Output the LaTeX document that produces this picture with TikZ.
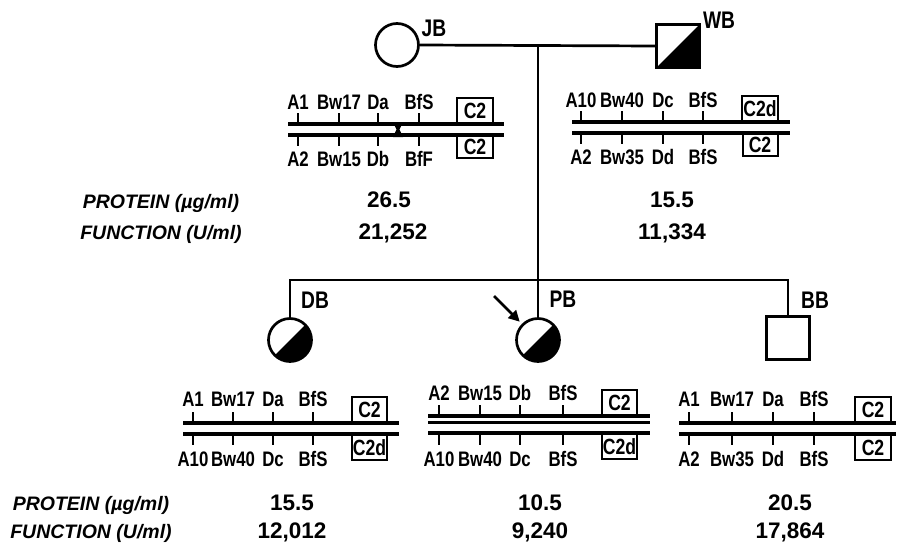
\documentclass[tikz,border=0pt]{standalone}
\usepackage{fontspec}
\setmainfont{Liberation Sans}
\newfontfamily\lab[FakeStretch=0.8]{Liberation Sans Bold}
\newfontfamily\labn{Liberation Sans Bold}
\newfontfamily\labi{Liberation Sans Bold Italic}
\usetikzlibrary{arrows.meta,calc}
\begin{document}
\begin{tikzpicture}[x=1pt,y=-1pt,
  ped/.style={line width=2.7pt},
  chrom/.style={line width=3.3pt},
  gtick/.style={line width=2.2pt},
  gene/.style={font=\lab\fontsize{21}{21}\selectfont, inner sep=0pt, anchor=center},
  boxlab/.style={draw, line width=2pt, font=\lab\fontsize{22}{22}\selectfont, minimum width=36pt, minimum height=25pt, inner sep=1pt},
  plabel/.style={font=\lab\fontsize{24}{24}\selectfont, inner sep=0pt},
  numlab/.style={font=\labn\fontsize{22.5}{22.5}\selectfont, inner sep=0pt},
  ital/.style={font=\labi\fontsize{19.5}{19.5}\selectfont, inner sep=0pt},
  halffill/.style={path picture={\fill[black] (path picture bounding box.north east) -- (path picture bounding box.south east) -- (path picture bounding box.south west) -- cycle;}},
  fem/.style={circle, draw, ped, minimum size=43pt, inner sep=0pt},
  mal/.style={rectangle, draw, ped, minimum size=43pt, inner sep=0pt}
]
\useasboundingbox (0,0) rectangle (899,549);

% ---------- pedigree ----------
\node[fem] (jb) at (397,45) {};
\node[mal, halffill] (wb) at (678,46) {};
\node[plabel] (jbl) at (434,28) {JB};
\node[plabel] (wbl) at (719,20) {WB};
\coordinate (m) at (538,45);
\draw[ped] (jb.east) -- (wb.west);

\node[fem, halffill] (db) at (290,340) {};
\node[fem, halffill] (pb) at (538,340) {};
\node[mal] (bb) at (788,338) {};
\node[plabel] (dbl) at (315,300) {DB};
\node[plabel] (pbl) at (563,299) {PB};
\node[plabel] (bbl) at (815,300) {BB};

\coordinate (sl) at (290,280);
\coordinate (sr) at (788,280);
\draw[ped] (m) -- (pb.north);
\draw[ped] (db.north) -- (sl) -- (sr) -- (bb.north);

\coordinate (arr) at (494,296);
\draw[line width=2.8pt, -{Triangle[length=11pt,width=11pt]}, shorten >=3pt] (arr) -- (pb.135);

% ---------- JB chromosomes ----------
\draw[chrom] (288,124) -- (504,124) (288,135) -- (504,135);
\fill (393,122) -- (403,122) -- (399.5,129.5) -- (403,137) -- (393,137) -- (396.5,129.5) -- cycle;
\foreach \x/\t/\b [count=\i] in {298/A1/A2, 339/Bw17/Bw15, 378/Da/Db, 419/BfS/BfF} {
  \draw[gtick] (\x,113) -- (\x,124) (\x,135) -- (\x,146);
  \node[gene] (jbt\i) at (\x,102) {\t};
  \node[gene] (jbb\i) at (\x,159) {\b};
}
\node[boxlab, anchor=south] (jbc1) at (475,124) {C2};
\node[boxlab, anchor=north, minimum height=22pt] (jbc2) at (475,135) {C2};

% ---------- WB chromosomes ----------
\draw[chrom] (572,122) -- (790,122) (572,133) -- (790,133);
\foreach \x/\t/\b [count=\i] in {581/A10/A2, 622/Bw40/Bw35, 663/Dc/Dd, 703/BfS/BfS} {
  \draw[gtick] (\x,111) -- (\x,122) (\x,133) -- (\x,144);
  \node[gene] (wbt\i) at (\x,100) {\t};
  \node[gene] (wbb\i) at (\x,157) {\b};
}
\node[boxlab, anchor=south, minimum width=35pt] (wbc1) at (760,122) {C2d};
\node[boxlab, anchor=north, minimum height=22pt, minimum width=35pt] (wbc2) at (760,133) {C2};

% ---------- parents' values ----------
\node[ital] (p1) at (161,203) {PROTEIN (µg/ml)};
\node[ital] (f1) at (161,234) {FUNCTION (U/ml)};
\node[numlab] (jbp) at (389,200) {26.5};
\node[numlab] (jbf) at (393,233) {21,252};
\node[numlab] (wbp) at (672,200) {15.5};
\node[numlab] (wbf) at (672,233) {11,334};

% ---------- DB chromosomes ----------
\draw[chrom] (183,423) -- (399,423) (183,434) -- (399,434);
\foreach \x/\t/\b [count=\i] in {193/A1/A10, 233/Bw17/Bw40, 273/Da/Dc, 313/BfS/BfS} {
  \draw[gtick] (\x,412) -- (\x,423) (\x,434) -- (\x,445);
  \node[gene] (dbt\i) at (\x,399) {\t};
  \node[gene] (dbb\i) at (\x,459) {\b};
}
\node[boxlab, anchor=south, minimum width=35pt] (dbc1) at (369.5,423) {C2};
\node[boxlab, anchor=north, minimum width=35pt] (dbc2) at (369.5,434) {C2d};

% ---------- PB chromosomes ----------
\draw[chrom] (428,416) -- (650,416) (428,422.5) -- (650,422.5) (428,433) -- (650,433);
\foreach \x/\t/\b [count=\i] in {439/A2/A10, 480/Bw15/Bw40, 520/Db/Dc, 563/BfS/BfS} {
  \draw[gtick] (\x,405) -- (\x,416) (\x,433) -- (\x,445);
  \node[gene] (pbt\i) at (\x,393) {\t};
  \node[gene] (pbb\i) at (\x,459) {\b};
}
\node[boxlab, anchor=south, minimum width=35pt] (pbc1) at (619.5,416) {C2};
\node[boxlab, anchor=north, minimum width=35pt] (pbc2) at (619.5,433) {C2d};

% ---------- BB chromosomes ----------
\draw[chrom] (679,423) -- (896,423) (679,434) -- (896,434);
\foreach \x/\t/\b [count=\i] in {689/A1/A2, 732/Bw17/Bw35, 773/Da/Dd, 814/BfS/BfS} {
  \draw[gtick] (\x,412) -- (\x,423) (\x,434) -- (\x,445);
  \node[gene] (bbt\i) at (\x,399) {\t};
  \node[gene] (bbb\i) at (\x,459) {\b};
}
\node[boxlab, anchor=south] (bbc1) at (873,423) {C2};
\node[boxlab, anchor=north] (bbc2) at (873,434) {C2};

% ---------- children's values ----------
\node[ital] (p2) at (91,505) {PROTEIN (µg/ml)};
\node[ital] (f2) at (91,533) {FUNCTION (U/ml)};
\node[numlab] (dbp) at (292,503) {15.5};
\node[numlab] (dbf) at (292,532) {12,012};
\node[numlab] (pbp) at (540,503) {10.5};
\node[numlab] (pbf) at (540,532) {9,240};
\node[numlab] (bbp) at (790,503) {20.5};
\node[numlab] (bbf) at (790,532) {17,864};
\end{tikzpicture}
\end{document}
